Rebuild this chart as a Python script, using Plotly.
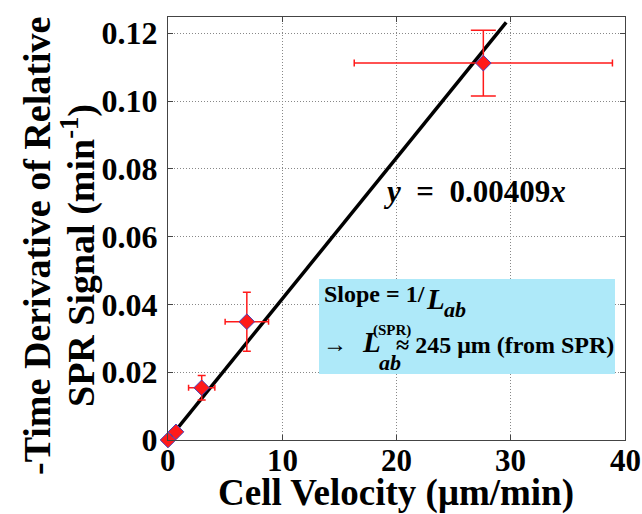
import plotly.graph_objects as go

# ---- data ----
velocity = [0.0, 0.7, 2.95, 6.9, 27.6]
rate = [0.0, 0.0024, 0.0154, 0.0349, 0.1112]
vel_err = [0.0, 0.0, 1.15, 1.9, 11.3]
rate_err = [0.0, 0.0, 0.0036, 0.0087, 0.0097]

fit_x = [0.0, 29.6]
fit_y = [0.0, 0.1232]

x_ticks = [0, 10, 20, 30, 40]
y_ticks = [0, 0.02, 0.04, 0.06, 0.08, 0.10, 0.12]
y_tick_text = ["0", "0.02", "0.04", "0.06", "0.08", "0.10", "0.12"]

W, H = 642, 514
L, R, T, B = 168, 17, 17, 74
PW, PH = W - L - R, H - T - B


def px(x):
    return (x - L) / PW


def py(y):
    return (H - B - y) / PH


FONT = "Liberation Serif"
RED = "#ff1a1a"

fig = go.Figure()

fig.add_trace(go.Scatter(
    x=fit_x, y=fit_y, mode="lines",
    line=dict(color="black", width=3.5), hoverinfo="skip", showlegend=False))

# error bars for small points
fig.add_trace(go.Scatter(
    x=velocity[:4], y=rate[:4], mode="markers", cliponaxis=False,
    marker=dict(symbol="diamond", size=12, color=RED, line=dict(color="#4b3fb8", width=1)),
    error_x=dict(type="data", array=vel_err[:4], color=RED, thickness=1.5, width=3),
    error_y=dict(type="data", array=rate_err[:4], color=RED, thickness=1.5, width=4),
    showlegend=False))

# error bars for the largest point
fig.add_trace(go.Scatter(
    x=velocity[4:], y=rate[4:], mode="markers", cliponaxis=False,
    marker=dict(symbol="diamond", size=12, color=RED, line=dict(color="#4b3fb8", width=1)),
    error_x=dict(type="data", array=vel_err[4:], color=RED, thickness=1.5, width=3.5),
    error_y=dict(type="data", array=rate_err[4:], color=RED, thickness=1.5, width=12.5),
    showlegend=False))

# light blue box
fig.add_shape(type="rect", xref="paper", yref="paper",
              x0=px(319), x1=px(615), y0=py(374), y1=py(279),
              fillcolor="#aee9f9", line=dict(width=0), layer="above")

ann = []


def add(text, x, y, size, xanchor="left", angle=0):
    ann.append(dict(text=text, xref="paper", yref="paper", x=px(x), y=py(y),
                    xanchor=xanchor, yanchor="middle", showarrow=False,
                    textangle=angle, font=dict(family=FONT, size=size, color="black")))


add("<b><i>y</i>\u00a0\u00a0=\u00a0\u00a00.00409<i>x</i></b>", 381, 191, 31)
add("<b>Slope = 1/</b>", 322, 294, 24)
add("<b><i>L</i></b>", 424, 299, 29)
add("<b><i>ab</i></b>", 442, 309, 22)
add("<b>\u2192</b>", 321, 344, 24)
add("<b><i>L</i></b>", 360, 342, 29)
add("<b>(SPR)</b>", 371, 330, 15)
add("<b><i>ab</i></b>", 377, 362, 22)
add("<b>\u2248 245 \u03bcm (from SPR)</b>", 394, 345, 24)

# y-axis title (two lines)
add("<b>-Time Derivative of Relative</b>", 37, 246, 38, xanchor="center", angle=-90)
add("<b>SPR Signal (min<sup>-1</sup>)</b>", 78, 256, 38, xanchor="center", angle=-90)
# x-axis title
add("<b>Cell Velocity (\u03bcm/min)</b>", 396, 493, 37, xanchor="center")

# x tick labels (placed at the data positions of the x ticks)
for v in x_ticks:
    ann.append(dict(text=f"<b>{v}</b>", xref="x", yref="paper", x=v, y=py(460),
                    xanchor="center", yanchor="middle", showarrow=False,
                    font=dict(family=FONT, size=31, color="black")))

fig.update_layout(
    width=W, height=H,
    margin=dict(l=L, r=R, t=T, b=B, autoexpand=False),
    paper_bgcolor="white", plot_bgcolor="white",
    annotations=ann,
    font=dict(family=FONT, color="black"),
)

grid_dash = "1px,2px"
fig.update_xaxes(
    range=[0, 40], tickvals=x_ticks, showticklabels=False, automargin=False,
    showgrid=True, gridcolor="#888888", griddash=grid_dash, gridwidth=1,
    zeroline=False, showline=True, linecolor="#444444", linewidth=1.2, mirror="ticks",
    ticks="inside", ticklen=5, tickcolor="#444444",
)
fig.update_yaxes(
    range=[0, 0.1248], tickvals=y_ticks, ticktext=[f"<b>{t}</b>" for t in y_tick_text],
    tickfont=dict(family=FONT, size=32, color="black"), automargin=False,
    showgrid=True, gridcolor="#888888", griddash=grid_dash, gridwidth=1,
    zeroline=False, showline=True, linecolor="#444444", linewidth=1.2, mirror="ticks",
    ticks="inside", ticklen=5, tickcolor="#444444", ticklabelstandoff=3,
)

fig.write_html(
    "out.html",
    config={"displayModeBar": False},
    post_script="document.body.style.margin='0';document.body.style.overflow='hidden';",
)
